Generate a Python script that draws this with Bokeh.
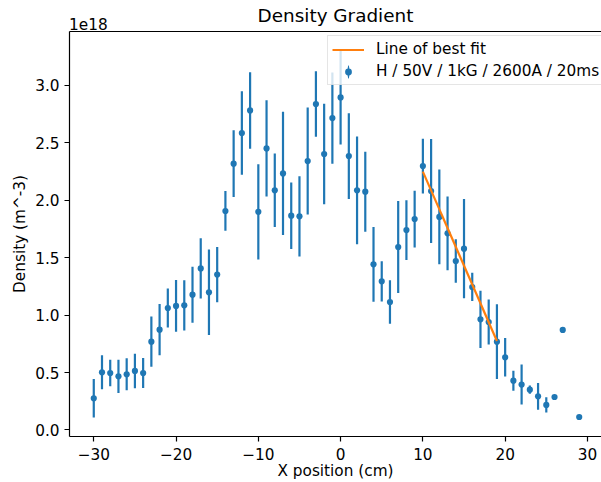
import math
from bokeh.plotting import figure
from bokeh.models import (ColumnDataSource, Range1d, FixedTicker, CustomJSTickFormatter,
                          Legend, LegendItem, LinearAxis)
from bokeh.embed import file_html
from bokeh.resources import INLINE

# ---- data (density in units of 1e18 m^-3) ----
x_cm = [-30, -29, -28, -27, -26, -25, -24, -23, -22, -21, -20, -19, -18, -17, -16, -15,
        -14, -13, -12, -11, -10, -9, -8, -7, -6, -5, -4, -3, -2, -1, 0, 1, 2, 3, 4, 5,
        6, 7, 8, 9, 10, 11, 12, 13, 14, 15, 16, 17, 18, 19, 20, 21, 22, 23, 24, 25,
        26, 27, 29]
density = [0.276, 0.502, 0.496, 0.467, 0.485, 0.514, 0.496, 0.769, 0.873, 1.062, 1.080,
           1.085, 1.178, 1.407, 1.199, 1.353, 1.907, 2.319, 2.586, 2.783, 1.900, 2.452,
           2.087, 2.234, 1.866, 1.860, 2.342, 2.838, 2.403, 2.716, 2.896, 2.385, 2.087,
           2.075, 1.442, 1.294, 1.114, 1.593, 1.741, 1.837, 2.298, 2.081, 1.855, 1.712,
           1.471, 1.579, 1.245, 0.963, 0.940, 0.769, 0.633, 0.429, 0.395, 0.351, 0.293,
           0.218, 0.287, 0.871, 0.113]
density_err = [0.168, 0.148, 0.115, 0.145, 0.140, 0.150, 0.130, 0.218, 0.223, 0.170, 0.225,
               0.218, 0.244, 0.263, 0.373, 0.240, 0.173, 0.290, 0.363, 0.333, 0.415, 0.420,
               0.320, 0.537, 0.290, 0.350, 0.466, 0.285, 0.437, 0.397, 0.410, 0.374, 0.469,
               0.348, 0.326, 0.175, 0.190, 0.400, 0.260, 0.247, 0.238, 0.453, 0.413, 0.322,
               0.189, 0.432, 0.123, 0.250, 0.195, 0.326, 0.168, 0.087, 0.174, 0.036, 0.116,
               0.067, 0.0, 0.0, 0.0]
fit_x = [10, 19]
fit_y = [2.25, 0.775]

x_ticks = [-30, -20, -10, 0, 10, 20, 30]
y_ticks = [0.0, 0.5, 1.0, 1.5, 2.0, 2.5, 3.0]
title_text = "Density Gradient"
x_label = "X position (cm)"
y_label = "Density (m^-3)"
offset_text = "1e18"
fit_label = "Line of best fit"
data_label = "H / 50V / 1kG / 2600A / 20ms"

BLUE = "#1f77b4"
ORANGE = "#ff7f0e"
FONT = "DejaVu Sans"
FS = "15.3px"

lo = [d - e for d, e in zip(density, density_err)]
hi = [d + e for d, e in zip(density, density_err)]
src = ColumnDataSource(dict(x=x_cm, y=density, lo=lo, hi=hi))

x_start, x_end = -32.95, 31.71
y_start, y_end = -0.057, 3.470
frame_w = 532

p = figure(width=601, height=482, output_backend="svg", toolbar_location=None,
           x_range=Range1d(x_start, x_end), y_range=Range1d(y_start, y_end),
           min_border_left=69, min_border_right=0, min_border_top=31, min_border_bottom=46)
p.outline_line_color = None
p.xgrid.visible = False
p.ygrid.visible = False
p.background_fill_color = "white"
p.border_fill_color = "white"
p.title.text = ""


def style_axis(ax):
    ax.axis_line_color = "black"
    ax.axis_line_width = 1.2
    ax.major_tick_line_color = "black"
    ax.major_tick_line_width = 1.2
    ax.major_tick_in = 0
    ax.major_tick_out = 5
    ax.minor_tick_line_color = None
    ax.major_label_text_font = FONT
    ax.major_label_text_font_size = FS
    ax.major_label_text_color = "black"
    ax.axis_label_text_font = FONT
    ax.axis_label_text_font_size = FS
    ax.axis_label_text_font_style = "normal"
    ax.axis_label_text_color = "black"


style_axis(p.xaxis[0])
style_axis(p.yaxis[0])

p.xaxis.ticker = FixedTicker(ticks=x_ticks)
p.xaxis.formatter = CustomJSTickFormatter(
    code="return tick < 0 ? '\\u2212' + Math.abs(tick) : String(tick);")
p.xaxis.axis_label = x_label
p.xaxis.major_label_standoff = 6
p.xaxis.axis_label_standoff = -1

p.yaxis.ticker = FixedTicker(ticks=y_ticks)
p.yaxis.formatter = CustomJSTickFormatter(code="return tick.toFixed(1);")
p.yaxis.axis_label = y_label
p.yaxis.major_label_standoff = 5
p.yaxis.axis_label_standoff = 3

# top spine + scale-offset text ("1e18") + title, carried by an axis above the frame
offset_center = x_start + 18.9 * (x_end - x_start) / frame_w
top_ax = LinearAxis(ticker=FixedTicker(ticks=[offset_center]),
                    formatter=CustomJSTickFormatter(code="return %r;" % offset_text))
style_axis(top_ax)
top_ax.major_tick_line_color = None
top_ax.major_tick_out = 0
top_ax.major_label_standoff = 2
top_ax.axis_label = title_text
top_ax.axis_label_text_font_size = "18.4px"
top_ax.axis_label_standoff = -11
p.add_layout(top_ax, "above")

# data
err_r = p.segment(x0="x", y0="lo", x1="x", y1="hi", source=src, line_color=BLUE, line_width=2.2)
pt_r = p.scatter(x="x", y="y", source=src, marker="circle", size=6.2,
                 fill_color=BLUE, line_color=None)
fit_r = p.line(fit_x, fit_y, line_color=ORANGE, line_width=2.2)
# legend-only handle: a thin vertical bar (error bar) behind the marker
leg_bar = p.ellipse(x=[float("nan")], y=[float("nan")], width=2.2, height=16,
                    width_units="screen", height_units="screen",
                    fill_color=BLUE, line_color=None)

legend = Legend(items=[LegendItem(label=fit_label, renderers=[fit_r]),
                       LegendItem(label=data_label, renderers=[leg_bar, pt_r])],
                location=(258, 351))
legend.border_line_color = "#cccccc"
legend.border_line_width = 1
legend.background_fill_color = "white"
legend.background_fill_alpha = 0.8
legend.padding = 4
legend.margin = 0
legend.spacing = 4
legend.glyph_width = 32
legend.glyph_height = 17
legend.label_height = 17
legend.label_standoff = 12
legend.label_text_font = FONT
legend.label_text_font_size = FS
legend.label_text_color = "black"
p.add_layout(legend)

open("out.html", "w").write(file_html(p, INLINE))
